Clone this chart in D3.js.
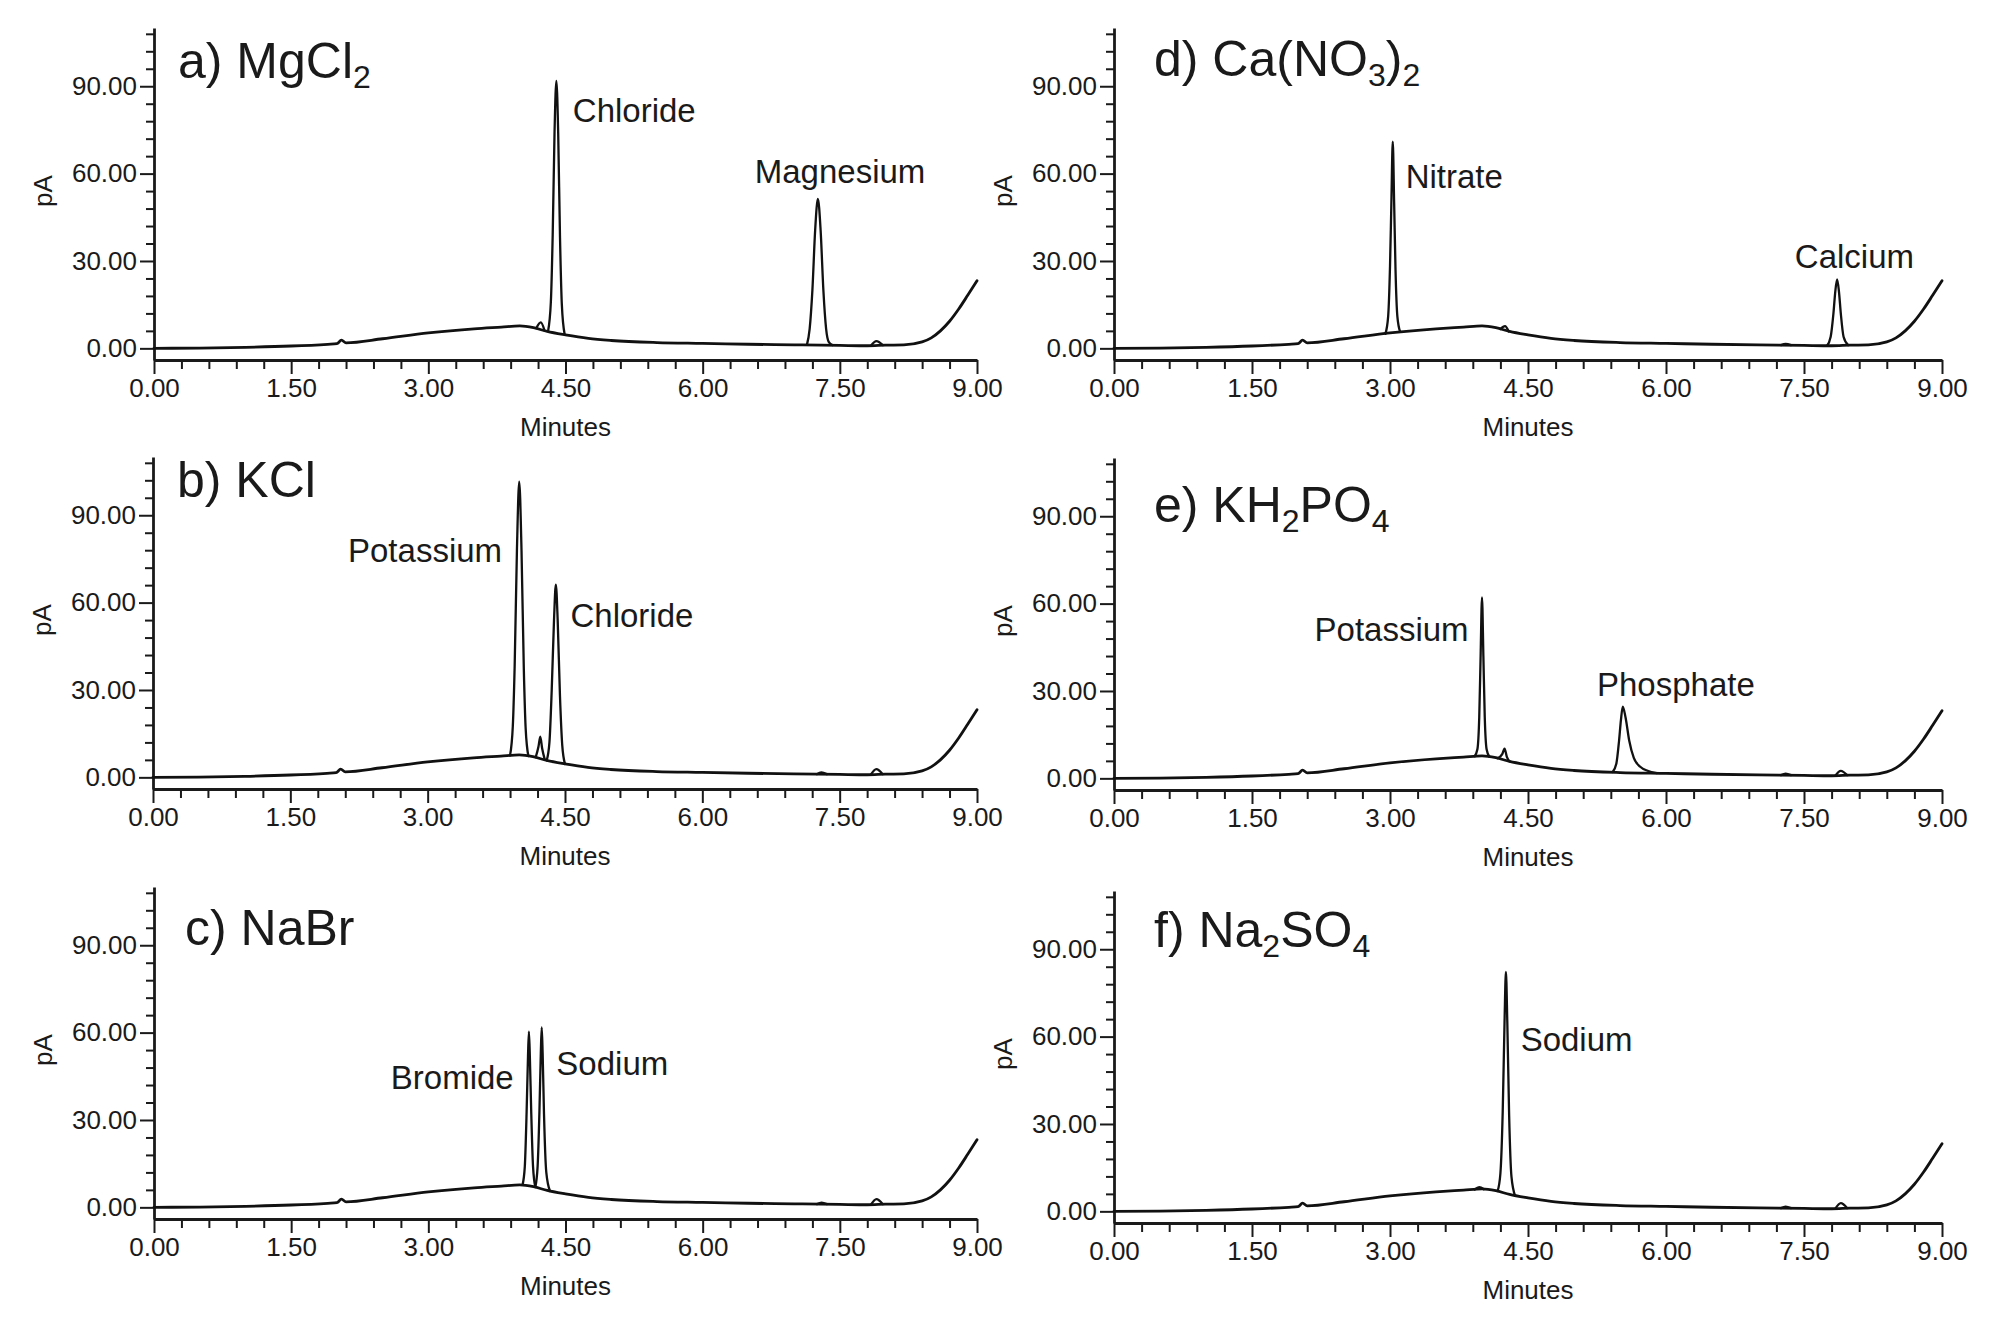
<!DOCTYPE html>
<html><head><meta charset="utf-8">
<script src="https://cdn.jsdelivr.net/npm/d3@7"></script>
<style>
html,body{margin:0;padding:0;background:#fff;}
svg{display:block;background:#fff;}
text{font-family:"Liberation Sans",Arial,Helvetica,sans-serif;fill:#1a1a1a;}
</style></head><body>
<svg id="chart" width="2000" height="1333"></svg>
<script>
// ================= DATA =================
const panelTitles = ["a) MgCl_2", "b) KCl", "c) NaBr", "d) Ca(NO_3)_2", "e) KH_2PO_4", "f) Na_2SO_4"];
const xTickValues = [0, 1.5, 3, 4.5, 6, 7.5, 9];
const xTickLabels = ["0.00", "1.50", "3.00", "4.50", "6.00", "7.50", "9.00"];
const yTickValues = [0, 30, 60, 90];
const yTickLabels = ["0.00", "30.00", "60.00", "90.00"];
const xAxisTitle = "Minutes";
const yAxisTitle = "pA";

// common baseline drift (minutes, pA)
const driftTimes  = [0, 0.5, 1.0, 1.5, 1.9, 2.0, 2.05, 2.1, 2.5, 3.0, 3.5, 3.8, 4.0, 4.15, 4.3, 4.5, 4.75, 5.0, 5.5, 6.0, 6.5, 7.0, 7.5, 7.8, 8.0, 8.2, 8.4, 8.5, 8.6, 8.7, 8.8, 8.9, 9.0];
const driftValues = [0, 0.1, 0.35, 0.8, 1.4, 1.6, 2.8, 1.9, 3.3, 5.3, 6.7, 7.3, 7.7, 7.1, 5.8, 4.6, 3.4, 2.7, 2.0, 1.7, 1.4, 1.2, 1.0, 0.9, 1.1, 1.2, 2.2, 3.6, 6.0, 9.3, 13.5, 18.3, 23.2];

// peaks per sample: lists of [minutes, pA]
const peaksMgCl2 = [
  [[4.31,6.0],[4.34,16],[4.36,39],[4.38,74],[4.40,91.8],[4.42,74],[4.44,38],[4.46,15],[4.49,4.9]],
  [[7.14,1.2],[7.17,6.7],[7.20,20],[7.23,40.5],[7.26,51.3],[7.29,40.5],[7.32,20],[7.35,6.7],[7.38,2.1],[7.42,1.1]],
  [[4.18,6.9],[4.23,8.9],[4.27,6.2]],
  [[7.84,0.9],[7.90,2.5],[7.97,1.1]]
];
const namesMgCl2 = ["Chloride", "Magnesium"];

const peaksKCl = [
  [[3.90,7.6],[3.93,17.6],[3.95,38],[3.975,78],[4.00,101.5],[4.025,78],[4.05,37.5],[4.07,17],[4.10,7.3]],
  [[4.18,6.9],[4.21,10.5],[4.23,14],[4.25,10],[4.28,6.0]],
  [[4.30,5.8],[4.33,12],[4.355,30],[4.38,54],[4.40,66.2],[4.42,54],[4.445,28],[4.47,11],[4.50,4.6]],
  [[7.25,1.1],[7.30,1.7],[7.36,1.1]],
  [[7.84,0.9],[7.90,2.8],[7.97,1.1]]
];
const namesKCl = ["Potassium", "Chloride"];

const peaksNaBr = [
  [[4.03,7.7],[4.055,14],[4.075,33],[4.09,52],[4.10,60.3],[4.11,52],[4.125,33],[4.145,14],[4.17,7.0]],
  [[4.17,7.0],[4.195,14],[4.215,33],[4.23,53],[4.24,61.8],[4.25,53],[4.265,32],[4.29,12],[4.33,5.6]],
  [[7.25,1.1],[7.30,1.6],[7.36,1.1]],
  [[7.84,0.9],[7.90,2.8],[7.97,1.1]]
];
const namesNaBr = ["Bromide", "Sodium"];

const peaksCaNO3 = [
  [[2.95,5.0],[2.98,11],[3.00,28],[3.015,50],[3.03,71],[3.045,50],[3.06,27],[3.08,11],[3.11,5.7]],
  [[4.20,6.6],[4.25,7.6],[4.29,5.8]],
  [[7.25,1.1],[7.30,1.5],[7.36,1.1]],
  [[7.75,0.9],[7.79,4],[7.82,12],[7.84,19.5],[7.86,23.7],[7.88,19.5],[7.90,12],[7.93,4],[7.98,1.1]]
];
const namesCaNO3 = ["Nitrate", "Calcium"];

const peaksKH2PO4 = [
  [[3.92,7.6],[3.95,10],[3.97,21],[3.985,42],[4.00,62.1],[4.015,42],[4.03,21],[4.05,10],[4.08,7.4]],
  [[4.17,6.9],[4.22,8.3],[4.245,10.2],[4.27,7.4],[4.30,5.8]],
  [[5.42,2.2],[5.46,5],[5.49,13],[5.51,20],[5.53,24.6],[5.56,21],[5.60,13],[5.65,7],[5.72,4],[5.80,2.6],[5.90,1.8]],
  [[7.25,1.1],[7.30,1.6],[7.36,1.1]],
  [[7.84,0.9],[7.90,2.6],[7.97,1.1]]
];
const namesKH2PO4 = ["Potassium", "Phosphate"];

const peaksNa2SO4 = [
  [[3.92,7.5],[3.97,8.3],[4.02,7.6]],
  [[4.17,7.0],[4.20,13],[4.225,34],[4.245,65],[4.26,82.2],[4.275,65],[4.295,33],[4.32,12],[4.36,5.3]],
  [[7.25,1.1],[7.30,1.6],[7.36,1.1]],
  [[7.84,0.9],[7.90,2.8],[7.97,1.1]]
];
const namesNa2SO4 = ["Sodium"];

// ================= LAYOUT =================
const layout = [
  {x0:154,  x1:977,  top:28,  titleDx:24, titleDy:50, labelPos:[[4.58,77.7],[6.57,56.8]]},
  {x0:153,  x1:977,  top:457, titleDx:24, titleDy:40, labelPos:[[2.13,74.0],[4.56,51.6]]},
  {x0:154,  x1:977,  top:887, titleDx:31, titleDy:58, labelPos:[[2.59,40.6],[4.40,45.4]]},
  {x0:1114, x1:1942, top:28,  titleDx:40, titleDy:48, labelPos:[[3.17,55.1],[7.40,27.6]]},
  {x0:1114, x1:1942, top:458, titleDx:40, titleDy:64, labelPos:[[2.18,47.2],[5.25,28.3]]},
  {x0:1114, x1:1942, top:891, titleDx:40, titleDy:56, labelPos:[[4.42,55.1]]}
];

const panels = [
  {title: panelTitles[0], peaks: peaksMgCl2,  names: namesMgCl2},
  {title: panelTitles[1], peaks: peaksKCl,    names: namesKCl},
  {title: panelTitles[2], peaks: peaksNaBr,   names: namesNaBr},
  {title: panelTitles[3], peaks: peaksCaNO3,  names: namesCaNO3},
  {title: panelTitles[4], peaks: peaksKH2PO4, names: namesKH2PO4},
  {title: panelTitles[5], peaks: peaksNa2SO4, names: namesNa2SO4}
];

const drift = driftTimes.map((t, i) => [t, driftValues[i]]);
const xMinor = d3.range(0, 9.001, 0.3).filter(v => xTickValues.every(m => Math.abs(m - v) > 1e-6));
const yMinor = d3.range(0, 110, 6).filter(v => yTickValues.indexOf(v) < 0);

const ink = "#1a1a1a";
const svg = d3.select("#chart");

panels.forEach((p, i) => {
  const L = layout[i];
  const x = d3.scaleLinear().domain([0, 9]).range([L.x0, L.x1]);
  const y = d3.scaleLinear().domain([-4, 110]).range([L.top + 332, L.top]);
  const g = svg.append("g");
  const axisY = y(-4);

  const yMin = g.append("g").attr("transform", `translate(${L.x0},0)`)
    .call(d3.axisLeft(y).tickValues(yMinor).tickSize(8).tickFormat("").tickSizeOuter(0));
  yMin.select(".domain").remove();
  const yMaj = g.append("g").attr("transform", `translate(${L.x0},0)`)
    .call(d3.axisLeft(y).tickValues(yTickValues).tickSize(14).tickPadding(3)
      .tickFormat(d => yTickLabels[yTickValues.indexOf(d)]).tickSizeOuter(0));
  yMaj.select(".domain").attr("stroke-width", 2.8);

  const xMin = g.append("g").attr("transform", `translate(0,${axisY})`)
    .call(d3.axisBottom(x).tickValues(xMinor).tickSize(9).tickFormat("").tickSizeOuter(0));
  xMin.select(".domain").remove();
  const xMaj = g.append("g").attr("transform", `translate(0,${axisY})`)
    .call(d3.axisBottom(x).tickValues(xTickValues).tickSize(14).tickPadding(5)
      .tickFormat(d => xTickLabels[xTickValues.indexOf(d)]).tickSizeOuter(0));
  xMaj.select(".domain").attr("stroke-width", 3.2);

  g.selectAll(".domain").attr("stroke", ink);
  g.selectAll(".tick line").attr("stroke", ink).attr("stroke-width", 2);
  g.selectAll(".tick text").attr("font-size", 26).attr("fill", ink)
    .attr("font-family", '"Liberation Sans", Arial, sans-serif');

  g.append("text").attr("x", x(4.5)).attr("y", axisY + 76)
    .attr("text-anchor", "middle").attr("font-size", 26).text(xAxisTitle);
  g.append("text").attr("transform", `translate(${L.x0 - 111},${L.top + 163}) rotate(-90)`)
    .attr("text-anchor", "middle").attr("dominant-baseline", "central")
    .attr("font-size", 26).text(yAxisTitle);

  const line = d3.line().x(d => x(d[0])).y(d => y(d[1])).curve(d3.curveMonotoneX);
  g.append("path").datum(drift).attr("d", line)
    .attr("fill", "none").attr("stroke", "#111").attr("stroke-width", 2.8)
    .attr("stroke-linejoin", "round").attr("stroke-linecap", "round");
  g.selectAll("path.peak").data(p.peaks).enter().append("path").attr("class", "peak")
    .attr("d", line).attr("fill", "none").attr("stroke", "#111").attr("stroke-width", 2.3)
    .attr("stroke-linejoin", "round").attr("stroke-linecap", "round");

  p.names.forEach((n, j) => {
    g.append("text").attr("x", x(L.labelPos[j][0])).attr("y", y(L.labelPos[j][1]))
      .attr("font-size", 33).text(n);
  });

  const t = g.append("text").attr("x", L.x0 + L.titleDx).attr("y", L.top + L.titleDy)
    .attr("font-size", 50);
  const parts = p.title.split(/_(\d)/);
  let shifted = false;
  parts.forEach((s, k) => {
    if (s === "") return;
    const sub = k % 2 === 1;
    const ts = t.append("tspan").text(s);
    if (sub) { ts.attr("font-size", 32).attr("dy", 10); shifted = true; }
    else if (shifted) { ts.attr("dy", -10); shifted = false; }
  });
});
</script>
</body></html>
